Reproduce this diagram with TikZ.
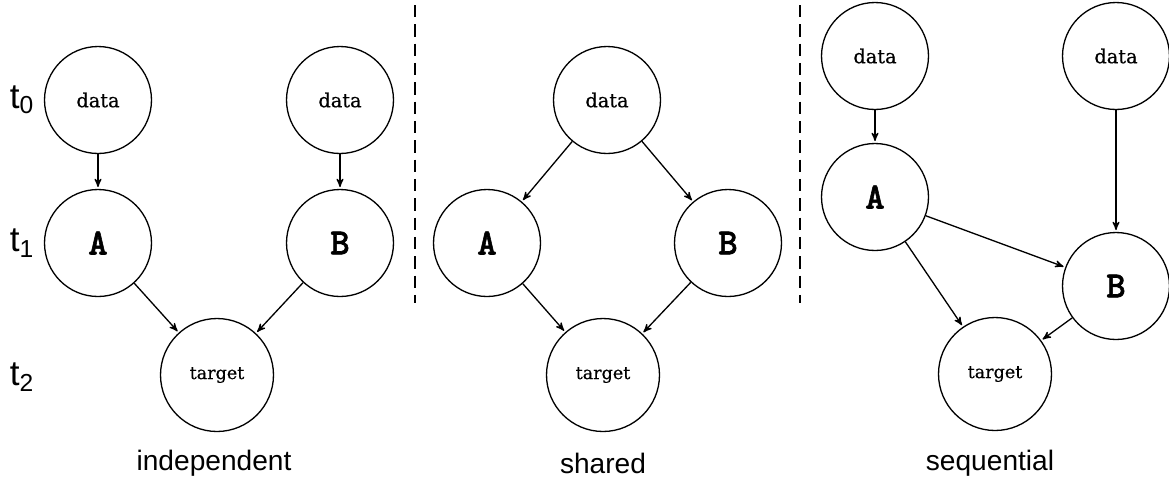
\documentclass[tikz,border=0pt]{standalone}
\usepackage{fontspec}
\setmainfont{Liberation Sans}
\newfontfamily\slabfont[FakeBold=0.6]{DejaVu Serif}
\newfontfamily\codefont[FakeBold=1.5]{lmmonolt10-bold.otf}
\usepackage{tikz}
\usetikzlibrary{
        arrows,
        positioning,
        shapes
    }
\tikzset{>=stealth',shorten >=1pt,auto}
\tikzset{
    var/.style={circle,draw,line width=0.75pt,minimum size=2.14cm,inner sep=0pt},
    datanode/.style={var,font=\slabfont\fontsize{11}{13}\selectfont},
    targetnode/.style={var,minimum size=2.26cm,font=\slabfont\fontsize{10}{12}\selectfont},
    model/.style={var,font=\codefont\fontsize{21}{23}\selectfont},
    caption/.style={font=\fontsize{16}{18}\selectfont},
    timelabel/.style={font=\fontsize{20}{22}\selectfont}
}

\begin{document}
\begin{tikzpicture}[x=0.02cm,y=-0.02cm,line width=0.75pt]
            \useasboundingbox (0,0) rectangle (1169,481);
            % time steps
            \node[timelabel] (s0) at (22,100) {t\textsubscript{0}};
            \node[timelabel] (s1) at (22,243) {t\textsubscript{1}};
            \node[timelabel] (s2) at (22,377) {t\textsubscript{2}};

            % independent
            \node[datanode] (da) at (98,100) {data};
            \node[model] (ia) at (98,243) {A};
            \node[datanode] (db) at (340,100) {data};
            \node[model] (ib) at (340,243) {B};
            \node[targetnode] (it) at (217,375) {target};
            \node[caption] (ic) at (214,463) {independent};

            % shared
            \node[datanode] (ds) at (607,100) {data};
            \node[model] (sa) at (487,243) {A};
            \node[model] (sb) at (728,243) {B};
            \node[targetnode] (st) at (603,375) {target};
            \node[caption] (sc) at (603,463) {shared};

            % sequential
            \node[datanode] (dqa) at (875,56) {data};
            \node[datanode] (dqb) at (1116,56) {data};
            \node[model] (qa) at (875,197) {A};
            \node[model] (qb) at (1116,286) {B};
            \node[targetnode] (qt) at (995,374) {target};
            \node[caption] (qc) at (990,463) {sequential};

            % separators
            \coordinate (u1) at (415,5);
            \coordinate (v1) at (415,305);
            \coordinate (u2) at (800,5);
            \coordinate (v2) at (800,305);
            \draw[dashed,dash pattern=on 7pt off 4pt] (u1) -- (v1);
            \draw[dashed,dash pattern=on 7pt off 4pt] (u2) -- (v2);

            \path[->]
                (da)  edge  (ia)
                (db)  edge  (ib)
                (ia)  edge  (it)
                (ib)  edge  (it)
                (ds)  edge  (sa)
                (ds)  edge  (sb)
                (sa)  edge  (st)
                (sb)  edge  (st)
                (dqa) edge  (qa)
                (dqb) edge  (qb)
                (qa)  edge  (qb)
                (qa)  edge  (qt)
                (qb)  edge  (qt)
            ;
        \end{tikzpicture}
\end{document}
